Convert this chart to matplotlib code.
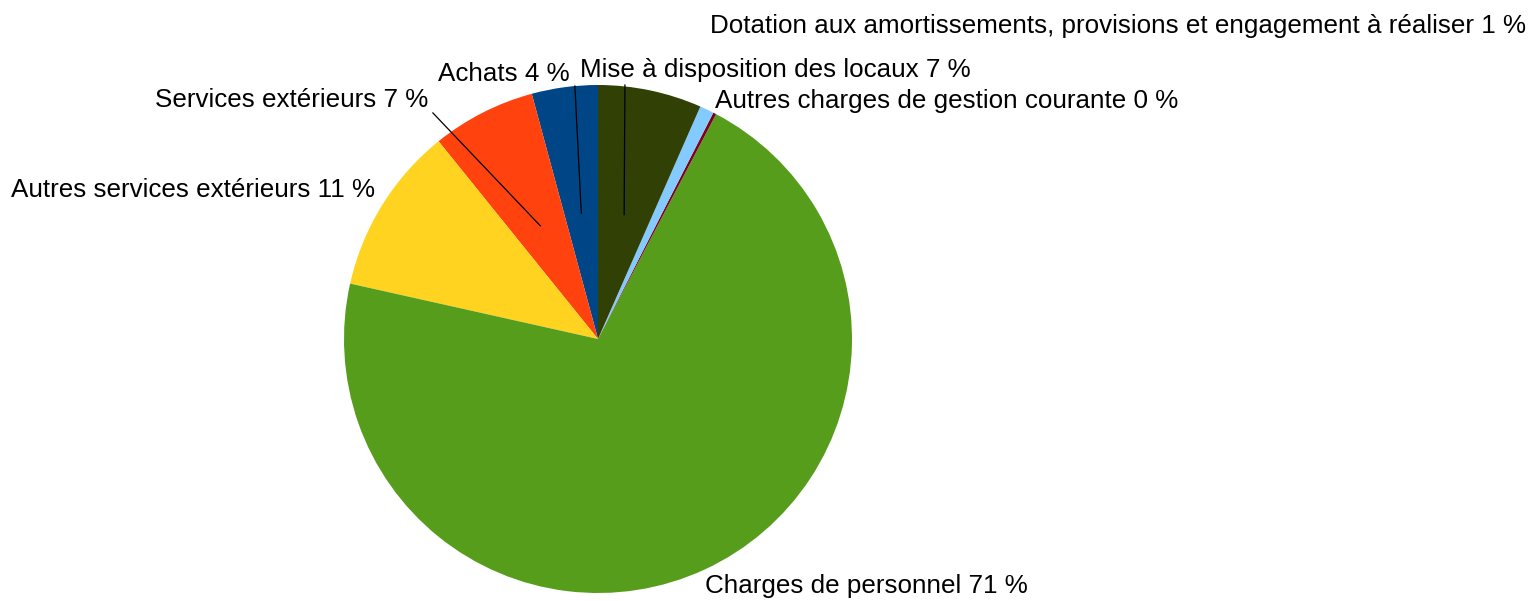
import numpy as np
import matplotlib.pyplot as plt

# budget breakdown (percent of total)
categories = [
    "Achats",
    "Services extérieurs",
    "Autres services extérieurs",
    "Charges de personnel",
    "Autres charges de gestion courante",
    "Dotation aux amortissements, provisions et engagement à réaliser",
    "Mise à disposition des locaux",
]
values = [4.2, 6.6, 10.7, 70.8, 0.2, 0.9, 6.6]
colors = ["#004586", "#ff420e", "#ffd320", "#579d1c", "#7e0021", "#83caff", "#314004"]

# label anchor (left edge, baseline) in data units, and leader line end (None = no line)
label_pos = [(-0.630, 1.016), (-1.744, 0.913), (-2.311, 0.559), (0.421, -1.0),
             (0.461, 0.909), (0.441, 1.205), (-0.071, 1.031)]
leader_end = [(-0.091, 0.996), (-0.65, 0.89), None, None, None, None, (0.106, 1.0)]

plt.rcParams['font.family'] = ['Liberation Sans', 'DejaVu Sans']

fig = plt.figure(figsize=(15.34, 6.01), dpi=100)
ax = fig.add_axes([0, 0, 1, 1])
ax.axis('off')

wedges, _ = ax.pie(values, colors=colors, startangle=90, counterclock=True,
                   radius=1, wedgeprops=dict(linewidth=0))

# pie centre sits at pixel (598, 339) with radius 254 px
ax.set_xlim(-598 / 254, (1534 - 598) / 254)
ax.set_ylim(-(601 - 339) / 254, 339 / 254)
ax.set_aspect('auto')

total = sum(values)
for w, name, v, pos, end in zip(wedges, categories, values, label_pos, leader_end):
    ax.text(pos[0], pos[1], f"{name} {v / total * 100:.0f} %", fontsize=18.7,
            ha='left', va='baseline', color='black')
    if end is not None:
        mid = np.deg2rad((w.theta1 + w.theta2) / 2)
        x0, y0 = 0.5 * np.cos(mid), 0.5 * np.sin(mid)
        ax.plot([x0, end[0]], [y0, end[1]], color='black', linewidth=0.9)

fig.savefig("out.png", dpi=100)
